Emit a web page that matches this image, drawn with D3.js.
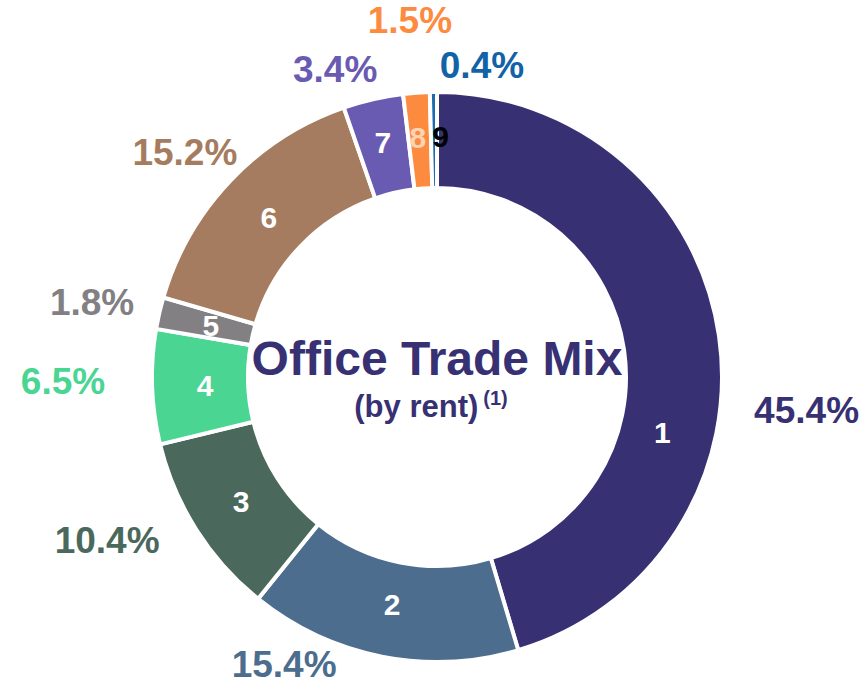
<!DOCTYPE html>
<html>
<head>
<meta charset="utf-8">
<script src="https://cdn.jsdelivr.net/npm/d3@7"></script>
<style>
  body { margin: 0; background: #fff; }
  svg text { font-family: "Liberation Sans", Arial, sans-serif; font-weight: bold; }
</style>
</head>
<body>
<div id="chart"></div>
<script>
// slice data
var categories = ["1", "2", "3", "4", "5", "6", "7", "8", "9"];
var shares = [45.4, 15.4, 10.4, 6.5, 1.8, 15.2, 3.4, 1.5, 0.4];
var pctLabels = ["45.4%", "15.4%", "10.4%", "6.5%", "1.8%", "15.2%", "3.4%", "1.5%", "0.4%"];

var sliceColors = ["#373173", "#4d6d8e", "#4a695c", "#4ad592", "#838083", "#a67c60", "#6a5bb2", "#fd8b3f", "#1a6bb0"];
var pctColors   = ["#373173", "#4d6d8e", "#4a695c", "#4ad592", "#838083", "#a67c60", "#6a5bb2", "#fd8b3f", "#1262a8"];
var numColors   = ["#fff", "#fff", "#fff", "#fff", "#fff", "#fff", "#fff", "#fcd3b4", "#000"];

var width = 867, height = 685;
var cx = 437, cy = 377;
var outerR = 285, innerR = 189;

// hand tweaks for where the labels sit (degrees off mid-angle, distance from center)
var outerNudge = [[13.3, 371], [16.9, 325], [6.1, 368], [1.4, 374], [-0.7, 353], [-1.8, 338], [-5.3, 325], [-0.2, 358], [8.9, 316]];
var innerNudge = [22, 0, 0, 0, 0, 0, 0, -0.4, 1.6];

var svg = d3.select("#chart").append("svg")
    .attr("width", width)
    .attr("height", height);

var g = svg.append("g")
    .attr("transform", "translate(" + cx + "," + cy + ")");

var pie = d3.pie()
    .value(function(d) { return d; })
    .sort(null);

var arcs = pie(shares);

var arc = d3.arc()
    .innerRadius(innerR)
    .outerRadius(outerR);

g.selectAll(".slice")
    .data(arcs)
    .enter()
    .append("path")
    .attr("class", "slice")
    .attr("d", arc)
    .attr("fill", function(d, i) { return sliceColors[i]; })
    .attr("stroke", "#fff")
    .attr("stroke-width", 4);

function polar(a, r) {
    return [r * Math.sin(a), -r * Math.cos(a)];
}

// numbers inside the ring
g.selectAll(".num")
    .data(arcs)
    .enter()
    .append("text")
    .attr("class", "num")
    .attr("transform", function(d, i) {
        var mid = (d.startAngle + d.endAngle) / 2 + innerNudge[i] * Math.PI / 180;
        var r = i >= 6 ? 241 : 232;   // the small top slices sit a bit further out
        var p = polar(mid, r);
        return "translate(" + p[0] + "," + p[1] + ")";
    })
    .attr("text-anchor", "middle")
    .attr("dy", "0.36em")
    .attr("font-size", 30)
    .attr("fill", function(d, i) { return numColors[i]; })
    .text(function(d, i) { return categories[i]; });

// percentages outside
g.selectAll(".pct")
    .data(arcs)
    .enter()
    .append("text")
    .attr("class", "pct")
    .attr("transform", function(d, i) {
        var mid = (d.startAngle + d.endAngle) / 2 + outerNudge[i][0] * Math.PI / 180;
        var p = polar(mid, outerNudge[i][1]);
        return "translate(" + p[0] + "," + p[1] + ")";
    })
    .attr("text-anchor", "middle")
    .attr("dy", "0.36em")
    .attr("font-size", 37)
    .attr("fill", function(d, i) { return pctColors[i]; })
    .text(function(d, i) { return pctLabels[i]; });

// title in the hole
g.append("text")
    .attr("text-anchor", "middle")
    .attr("y", -2)
    .attr("font-size", 48)
    .attr("fill", "#373173")
    .text("Office Trade Mix");

var sub = g.append("text")
    .attr("text-anchor", "middle")
    .attr("x", -6)
    .attr("y", 40)
    .attr("font-size", 31)
    .attr("fill", "#373173");
sub.append("tspan").text("(by rent)");
sub.append("tspan")
    .attr("dx", 5)
    .attr("dy", -12)
    .attr("font-size", 20)
    .text("(1)");
</script>
</body>
</html>
